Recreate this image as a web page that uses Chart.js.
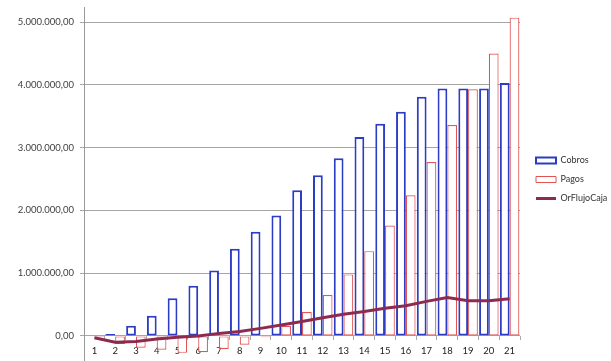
<!DOCTYPE html>
<html><head><meta charset="utf-8">
<script src="https://cdn.jsdelivr.net/npm/chart.js@4/dist/chart.umd.min.js"></script>
<style>html,body{margin:0;padding:0;background:#fff}#wrap{width:611px;height:361px}</style>
</head><body><div id="wrap"><canvas id="c" width="611" height="361"></canvas></div>
<script>
const categories = ['1','2','3','4','5','6','7','8','9','10','11','12','13','14','15','16','17','18','19','20','21'];
const cobros = [0, 30000, 160000, 320000, 600000, 800000, 1040000, 1390000, 1660000, 1920000, 2320000, 2560000, 2830000, 3170000, 3380000, 3570000, 3810000, 3940000, 3940000, 3940000, 4030000];
const pagos = [-20000, -130000, -190000, -220000, -270000, -260000, -210000, -140000, -20000, 160000, 380000, 650000, 980000, 1350000, 1760000, 2240000, 2770000, 3360000, 3930000, 4500000, 5070000];
const orFlujoCaja = [-30000, -100000, -90000, -50000, -20000, 0, 40000, 70000, 120000, 175000, 230000, 290000, 345000, 390000, 440000, 480000, 550000, 610000, 560000, 560000, 590000];
const yTickValues = [0, 1000000, 2000000, 3000000, 4000000, 5000000];

function fmtES(v){
  const s = Math.round(v).toString().replace(/\B(?=(\d{3})+(?!\d))/g, '.');
  return s + ',00';
}
const BLUE = '#2c3cc4', RED = '#e05454', LINE = '#8c2b4f';
const tickFont = {family: 'Lato', size: 9.5};

new Chart(document.getElementById('c'), {
  data: {
    labels: categories,
    datasets: [
      {type: 'bar', label: 'Cobros', data: cobros, backgroundColor: '#ffffff', borderColor: BLUE, borderWidth: 2, borderSkipped: false, order: 1, categoryPercentage: 0.94, barPercentage: 1},
      {type: 'bar', label: 'Pagos', data: pagos, backgroundColor: '#ffffff', borderColor: RED, borderWidth: 1.2, borderSkipped: false, order: 1, categoryPercentage: 0.94, barPercentage: 1},
      {type: 'line', label: 'OrFlujoCaja', data: orFlujoCaja, borderColor: LINE, backgroundColor: LINE, borderWidth: 3, pointRadius: 0, order: 0}
    ]
  },
  options: {
    responsive: false, animation: false, devicePixelRatio: 1,
    layout: {padding: {top: 7, left: 0, right: 0, bottom: 0}},
    plugins: {
      tooltip: {enabled: false},
      legend: {
        position: 'right', maxWidth: 85, align: 'start',
        title: {display: true, text: ' ', font: {size: 10}, padding: {top: 127, bottom: 0}},
        labels: {
          usePointStyle: true, pointStyleWidth: 20, boxHeight: 6, padding: 10,
          font: {family: 'Lato', size: 9}, color: '#333',
          sort: (a, b) => a.datasetIndex - b.datasetIndex,
          generateLabels: chart => {
            const items = Chart.defaults.plugins.legend.labels.generateLabels(chart);
            items.forEach(it => {
              if (it.datasetIndex === 2) { it.pointStyle = 'line'; it.strokeStyle = LINE; it.lineWidth = 3; }
              else { it.pointStyle = 'rect'; it.fillStyle = '#fff'; it.strokeStyle = it.datasetIndex === 0 ? BLUE : RED; it.lineWidth = it.datasetIndex === 0 ? 2 : 1; }
            });
            return items;
          }
        }
      }
    },
    scales: {
      x: {
        position: {y: 0}, offset: true,
        grid: {display: true, drawOnChartArea: false, tickLength: 4, color: '#aaa', offset: true},
        border: {display: false},
        ticks: {padding: 5, font: tickFont, color: '#222', maxRotation: 0, autoSkip: false},
        afterFit: s => { s.height = 0; }
      },
      y: {
        type: 'linear', min: -400000, max: 5240000,
        afterBuildTicks: s => { s.ticks = yTickValues.map(v => ({value: v})); },
        afterFit: s => { s.width = 84; s.paddingTop = 0; s.paddingBottom = 0; },
        grid: {color: '#a6a6a6', tickLength: 4},
        border: {color: '#999'},
        ticks: {padding: 6, font: tickFont, color: '#404040', callback: v => fmtES(v)}
      },
      y2: {
        type: 'linear', position: 'right', display: true,
        grid: {display: false}, border: {display: false}, ticks: {display: false},
        afterFit: s => { s.width = 6; s.paddingTop = 0; s.paddingBottom = 0; }
      }
    }
  }
});
</script></body></html>
